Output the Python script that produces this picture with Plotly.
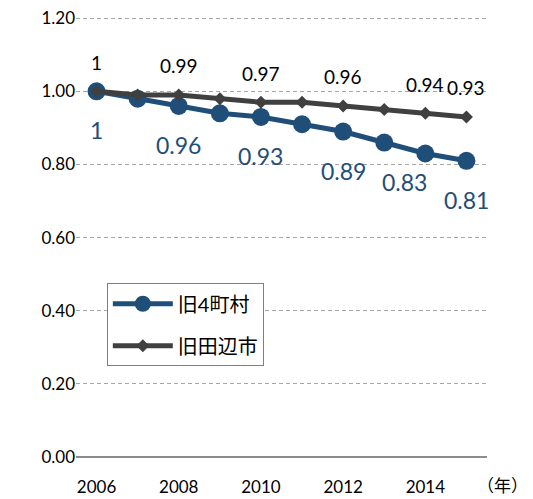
import plotly.graph_objects as go

years = [2006, 2007, 2008, 2009, 2010, 2011, 2012, 2013, 2014, 2015]
old4 = [1.00, 0.98, 0.96, 0.94, 0.93, 0.91, 0.89, 0.86, 0.83, 0.81]
tanabe = [1.00, 0.99, 0.99, 0.98, 0.97, 0.97, 0.96, 0.95, 0.94, 0.93]
series_names = ["旧4町村", "旧田辺市"]
labeled_idx = [0, 2, 4, 6, 8, 9]
y_ticks = [0, 0.2, 0.4, 0.6, 0.8, 1.0, 1.2]
x_ticks = [2006, 2008, 2010, 2012, 2014]
x_unit = "（年）"

BLUE = "#1F4E79"
GRAY = "#404040"
FONT = "Lato, 'Noto Sans CJK JP', sans-serif"

def fmt(v):
    return "1" if v == 1 else f"{v:g}"

fig = go.Figure()
fig.add_trace(go.Scatter(x=years, y=old4, name=series_names[0], mode="lines+markers",
                         legendgroup="a",
                         line=dict(color=BLUE, width=5),
                         marker=dict(symbol="circle", size=18, color=BLUE)))
fig.add_trace(go.Scatter(x=years, y=tanabe, name=series_names[1], mode="lines+markers",
                         legendgroup="b",
                         line=dict(color=GRAY, width=5),
                         marker=dict(symbol="diamond", size=10, color=GRAY)))

annotations = []
blue_shift = {8: (-21, -29)}
for i in labeled_idx:
    xs, ys = blue_shift.get(i, (0, -39))
    annotations.append(dict(x=years[i], y=old4[i], text=fmt(old4[i]), showarrow=False,
                            xshift=xs, yshift=ys, font=dict(size=23, color=BLUE, family=FONT)))
    annotations.append(dict(x=years[i], y=tanabe[i], text=fmt(tanabe[i]), showarrow=False,
                            xshift=0, yshift=29, font=dict(size=19, color="#000000", family=FONT)))
annotations.append(dict(xref="paper", yref="paper", x=1.0, y=0, xanchor="left", yanchor="middle",
                        xshift=-12, yshift=-28,
                        text=x_unit, showarrow=False, font=dict(size=17, color="#000000", family=FONT)))

fig.update_layout(
    width=525, height=491,
    margin=dict(l=68, r=46, t=8, b=42),
    paper_bgcolor="white", plot_bgcolor="white",
    font=dict(family=FONT, color="#000000"),
    showlegend=True,
    legend=dict(x=0.075, y=0.394, xanchor="left", yanchor="top",
                bordercolor="#7F7F7F", borderwidth=1, bgcolor="white",
                font=dict(size=20, family=FONT), tracegroupgap=13, itemwidth=60,
                entrywidth=92, entrywidthmode="pixels"),
    annotations=annotations,
    xaxis=dict(range=[2005.5, 2015.5], tickvals=x_ticks, ticktext=[str(t) for t in x_ticks],
               showgrid=False, zeroline=False, showline=False, automargin=False,
               ticks="outside", ticklen=15, tickcolor="rgba(0,0,0,0)",
               ticklabeloverflow="allow",
               tickfont=dict(size=17, family=FONT)),
    yaxis=dict(range=[0, 1.206], tickvals=y_ticks, tickformat=".2f", automargin=False,
               showgrid=True, gridcolor="#A6A6A6", griddash="4px,3px", gridwidth=1,
               zeroline=True, zerolinecolor="#8C8C8C", zerolinewidth=2,
               showline=False, ticks="", ticklabeloverflow="allow",
               tickfont=dict(size=17, family=FONT)),
)

fig.write_html("out.html")
